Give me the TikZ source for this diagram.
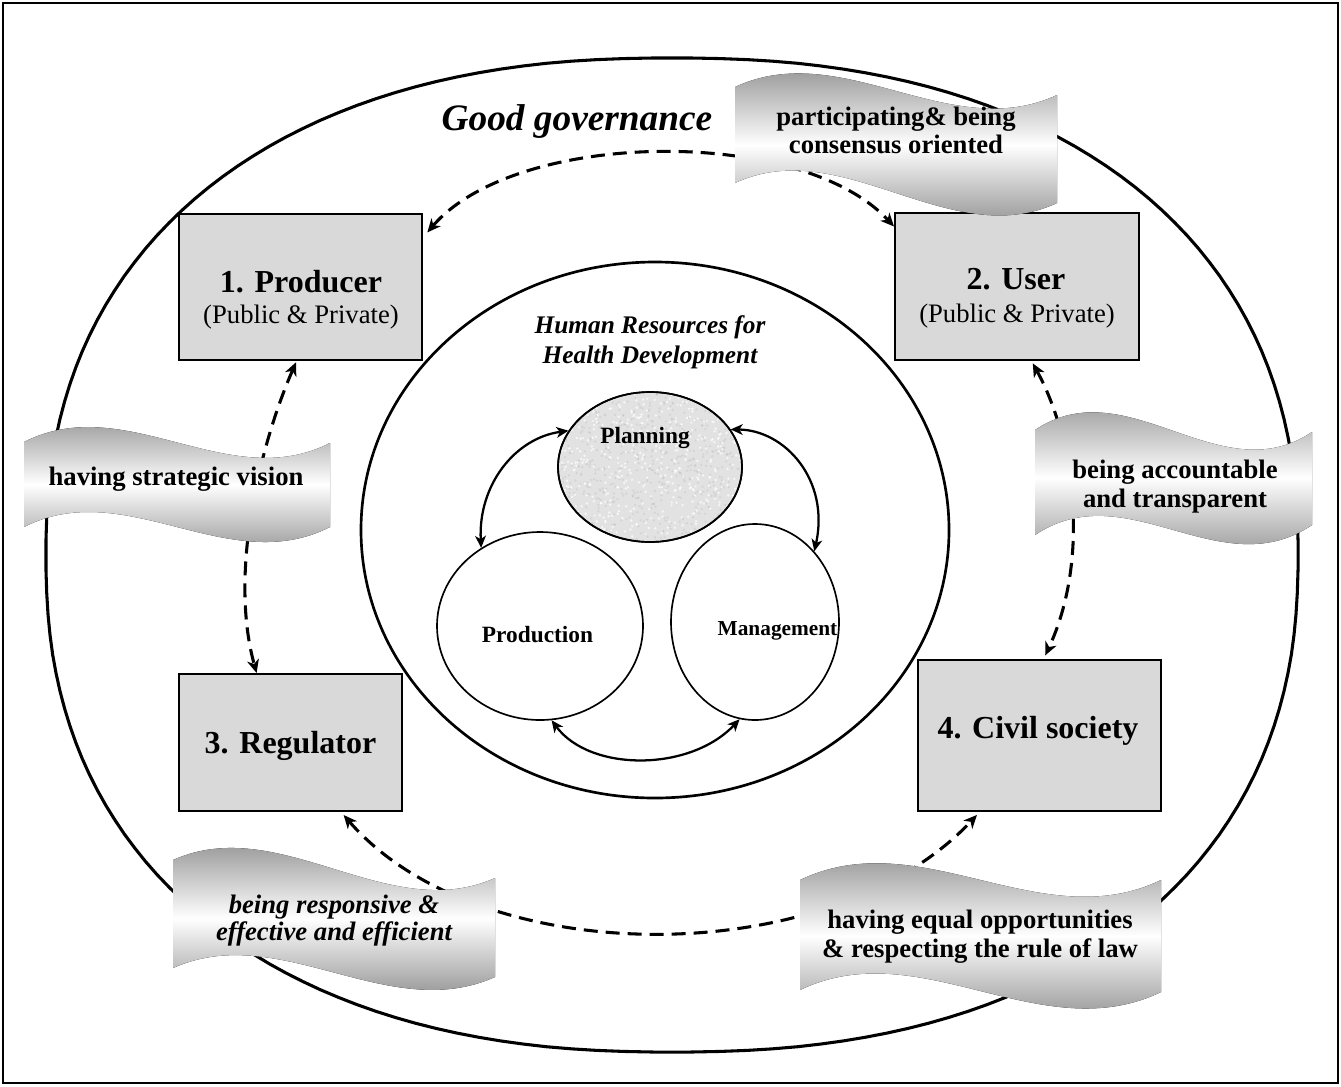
\documentclass[tikz,border=0pt]{standalone}
\usepackage{fontspec}
\setmainfont{Liberation Serif}
\usetikzlibrary{arrows.meta,shapes.geometric,calc}

\definecolor{boxgray}{RGB}{217,217,217}
\definecolor{ribbondark}{RGB}{112,112,112}
\definecolor{plangray}{RGB}{226,226,226}

% wavy ribbon: x0, x1, top-left y, top-right y, bottom-left y, bottom-right y, wave depth
\newcommand\ribbonshape[7]{%
  \fill[ribbon] (#1,#3) .. controls ({#1+(#2-#1)/3},{#3-#7}) and ({#1+2*(#2-#1)/3},{#4+#7}) .. (#2,#4)
    -- (#2,#6) .. controls ({#1+2*(#2-#1)/3},{#6+#7}) and ({#1+(#2-#1)/3},{#5-#7}) .. (#1,#5) -- cycle;}

\begin{document}
\begin{tikzpicture}[x=0.75pt,y=-0.75pt,
  role/.style={draw=black, line width=1.5pt, fill=boxgray, rectangle, inner sep=0pt},
  hub/.style={draw=black, line width=1.25pt, ellipse, inner sep=0pt},
  tipa/.tip={Stealth[length=9pt,width=8pt,inset=2.5pt]},
  tipb/.tip={Stealth[length=10pt,width=9pt,inset=3pt]},
  flow/.style={line width=1.7pt, tipa-tipa},
  link/.style={line width=2.3pt, dash pattern=on 10.5pt off 6pt, tipb-tipb},
  ribbon/.style={top color=ribbondark, bottom color=ribbondark, middle color=white},
  ribbontext/.style={font=\fontsize{20}{22}\selectfont\bfseries, anchor=base},
  boxtitle/.style={font=\fontsize{24}{28}\selectfont\bfseries, anchor=base},
  boxsub/.style={font=\fontsize{20}{24}\selectfont, anchor=base},
  hubtext/.style={font=\fontsize{17.5}{20}\selectfont\bfseries, anchor=base},
  hrtext/.style={font=\fontsize{19}{22}\selectfont\bfseries\itshape, anchor=base},
]
\useasboundingbox (0,0) rectangle (1341,1086);
\fill[white] (0,0) rectangle (1341,1086);
\draw[line width=1.5pt] (3,3) rectangle (1338,1083);

% outer governance oval (slightly squared ellipse)
\draw[line width=2.3pt]
  plot[domain=1:361, samples=181, variable=\t]
  ({672+626*(cos(\t)<0 ? -1 : 1)*pow(abs(cos(\t)),0.8696)},
   {555+497*(sin(\t)<0 ? -1 : 1)*pow(abs(sin(\t)),0.8696)}) -- cycle;
\node[font=\fontsize{28}{33}\selectfont\bfseries\itshape, anchor=base] (govtitle) at (577,130) {Good governance};

% inner human resources circle
\node[ellipse, draw, line width=2pt, inner sep=0pt,
      minimum width={2*294*0.75pt}, minimum height={2*268*0.75pt}] (hr) at (655,530) {};
\node[hrtext] (hrtitle1) at (650,333) {Human Resources for};
\node[hrtext] (hrtitle2) at (650,363) {Health Development};

% planning ellipse with speckled fill
\node[hub, fill=plangray, minimum width={2*92*0.75pt}, minimum height={2*75*0.75pt}] (plan) at (650,467) {};
\begin{scope}
  \clip (650,467) ellipse [x radius=91, y radius=74];
  \pgfmathsetseed{11}
  \foreach \i in {1,...,700}{
    \fill[gray!55, opacity=0.35] ({558+rnd*185},{392+rnd*150}) circle (0.9pt);
  }
  \foreach \i in {1,...,500}{
    \fill[white, opacity=0.7] ({558+rnd*185},{392+rnd*150}) circle (1.0pt);
  }
\end{scope}
\draw[line width=1.25pt] (650,467) ellipse [x radius=92, y radius=75];
\node[hub, minimum width={2*103*0.75pt}, minimum height={2*94*0.75pt}] (prodn) at (540,626) {};
\node[hub, minimum width={2*84*0.75pt}, minimum height={2*98*0.75pt}] (mgmt) at (755,622) {};

\node[hubtext] (plantext) at (645,443) {Planning};
\node[hubtext] (prodntext) at (537.5,642) {Production};
\node[hubtext, font=\fontsize{16}{19}\selectfont\bfseries] (mgmttext) at (777.5,635) {Management};

% links between the three functions
\draw[flow] (plan.156) .. controls (515,438) and (478,485) .. (prodn.127);
\draw[flow] (plan.25) .. controls (785,430) and (830,480) .. (mgmt.50);
\draw[flow] (prodn.-83) .. controls (590,772) and (690,772) .. (mgmt.-99);

% the four actors
\node[role, minimum width={243*0.75pt}, minimum height={146*0.75pt}] (prod) at (300.5,287) {};
\node[role, minimum width={244*0.75pt}, minimum height={147*0.75pt}] (user) at (1017,286.5) {};
\node[role, minimum width={223*0.75pt}, minimum height={137*0.75pt}] (reg) at (290.5,742.5) {};
\node[role, minimum width={243*0.75pt}, minimum height={151*0.75pt}] (civil) at (1039.5,735.5) {};

\node[boxtitle] (prodt) at (301,292) {1. Producer};
\node[boxsub] (prods) at (301,323) {(Public \& Private)};
\node[boxtitle] (usert) at (1016,289) {2. User};
\node[boxsub] (users) at (1017,322) {(Public \& Private)};
\node[boxtitle] (regt) at (290.5,753) {3. Regulator};
\node[boxtitle] (civilt) at (1038,738) {4. Civil society};

% dashed relations between the actors
\draw[link, shorten <=5pt] (prod.22) .. controls (515,130) and (800,125) .. (user.154);
\draw[link, shorten <=1pt] (prod.-93) .. controls (262,440) and (228,570) .. (reg.116);
\draw[link, shorten <=2pt, shorten >=3pt] (user.-79) .. controls (1075,440) and (1090,560) .. (civil.87);
\draw[link, shorten <=3pt, shorten >=3pt] (reg.-54) .. controls (480,972) and (830,972) .. (civil.-128);

% ribbons carrying the governance principles
\ribbonshape{735}{1057}{87}{95}{183}{203}{50}
\ribbonshape{24}{330}{442}{443}{527}{527}{52}
\ribbonshape{1035}{1312}{430}{432}{535}{525}{62}
\ribbonshape{173}{495}{860}{878}{968}{977}{48}
\ribbonshape{800}{1161}{880}{880}{990}{992}{58}

\node[ribbontext] (r1a) at (896,125) {participating\& being};
\node[ribbontext] (r1b) at (896,153) {consensus oriented};
\node[ribbontext] (r2) at (176,485) {having strategic vision};
\node[ribbontext] (r3a) at (1175,478) {being accountable};
\node[ribbontext] (r3b) at (1175,507) {and transparent};
\node[ribbontext, font=\fontsize{20}{22}\selectfont\bfseries\itshape] (r4a) at (334,913) {being responsive \&};
\node[ribbontext, font=\fontsize{20}{22}\selectfont\bfseries\itshape] (r4b) at (334,940) {effective and efficient};
\node[ribbontext] (r5a) at (980,928) {having equal opportunities};
\node[ribbontext] (r5b) at (980,957) {\& respecting the rule of law};
\end{tikzpicture}
\end{document}
